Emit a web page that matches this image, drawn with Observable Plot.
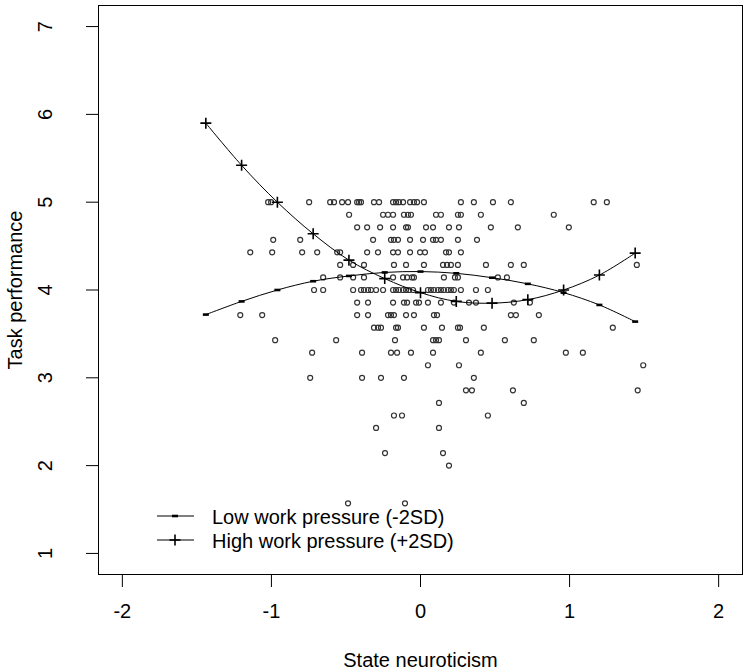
<!DOCTYPE html>
<html>
<head>
<meta charset="utf-8">
<script src="https://cdn.jsdelivr.net/npm/d3@7"></script>
<script src="https://cdn.jsdelivr.net/npm/@observablehq/plot@0.6"></script>
<style>
  html, body { margin: 0; padding: 0; background: #fff; }
  #chart { width: 747px; height: 672px; }
</style>
</head>
<body>
<div id="chart"></div>
<script>
// ---- Axis ticks ----
const xTicks = [-2, -1, 0, 1, 2];
const yTicks = [1, 2, 3, 4, 5, 6, 7];

// ---- Simple-slope curves ----
const curveX = [-1.44, -1.2, -0.96, -0.72, -0.48, -0.24, 0, 0.24, 0.48, 0.72, 0.96, 1.2, 1.44];
const lowY  = [3.72, 3.87, 4.00, 4.10, 4.16, 4.20, 4.21, 4.19, 4.14, 4.07, 3.97, 3.83, 3.64];
const highY = [5.90, 5.42, 5.00, 4.64, 4.34, 4.13, 3.97, 3.87, 3.85, 3.89, 4.00, 4.17, 4.42];

// ---- Observed data (x positions per task-performance level) ----
const x5000 = [-1.022, -1.002, -0.747, -0.606, -0.580, -0.526, -0.486, -0.425, -0.412, -0.399, -0.312, -0.278, -0.184, -0.164, -0.144, -0.117, -0.070, -0.044, -0.023, 0.023, 0.271, 0.358, 0.486, 0.606, 1.162, 1.250];
const x4857 = [-0.479, -0.251, -0.218, -0.184, -0.111, -0.084, -0.064, 0.104, 0.137, 0.251, 0.271, 0.405, 0.894];
const x4714 = [-0.425, -0.358, -0.271, -0.184, -0.097, -0.084, 0.037, 0.084, 0.191, 0.258, 0.472, 0.653, 0.995];
const x4571 = [-0.988, -0.807, -0.318, -0.198, -0.178, -0.151, -0.070, 0.017, 0.084, 0.104, 0.137, 0.251, 0.379];
const x4429 = [-1.142, -0.995, -0.794, -0.693, -0.559, -0.539, -0.358, -0.285, -0.184, -0.151, -0.070, -0.003, 0.030, 0.171, 0.191, 0.271];
const x4286 = [-0.539, -0.452, -0.379, -0.178, -0.097, 0.023, 0.151, 0.178, 0.204, 0.251, 0.439, 0.606, 0.693, 1.451];
const x4143 = [-0.653, -0.539, -0.452, -0.379, -0.184, -0.117, -0.090, -0.057, -0.044, 0.157, 0.231, 0.251, 0.519, 0.580];
const x4000 = [-0.714, -0.653, -0.452, -0.399, -0.379, -0.352, -0.332, -0.298, -0.251, -0.184, -0.164, -0.144, -0.117, -0.097, -0.077, -0.050, 0.050, 0.070, 0.090, 0.117, 0.137, 0.157, 0.184, 0.204, 0.224, 0.271, 0.372, 0.452];
const x3857 = [-0.425, -0.352, -0.184, -0.111, -0.090, -0.030, -0.010, 0.050, 0.137, 0.224, 0.325, 0.372, 0.626, 0.734];
const x3714 = [-1.209, -1.062, -0.425, -0.352, -0.218, -0.198, -0.178, -0.097, -0.044, 0.090, 0.111, 0.606, 0.640, 0.794];
const x3571 = [-0.312, -0.285, -0.265, -0.164, -0.151, 0.023, 0.144, 0.251, 0.265, 0.425, 1.290];
const x3429 = [-0.975, -0.566, -0.171, 0.084, 0.104, 0.124, 0.305, 0.566, 0.760];
const x3286 = [-0.727, -0.392, -0.198, -0.157, -0.064, 0.084, 0.405, 0.975, 1.089];
const x3143 = [0.050, 0.258, 1.494];
const x3000 = [-0.740, -0.392, -0.265, -0.111, 0.358];
const x2857 = [0.305, 0.345, 0.620, 1.457];
const x2714 = [0.124, 0.693];
const x2571 = [-0.178, -0.124, 0.452];
const x2429 = [-0.298, 0.124];
const x2143 = [-0.238, 0.151];
const x2000 = [0.191];
const x1571 = [-0.486, -0.104];

const rows = [
  [5.000, x5000], [4.857, x4857], [4.714, x4714], [4.571, x4571], [4.429, x4429],
  [4.286, x4286], [4.143, x4143], [4.000, x4000], [3.857, x3857], [3.714, x3714],
  [3.571, x3571], [3.429, x3429], [3.286, x3286], [3.143, x3143], [3.000, x3000],
  [2.857, x2857], [2.714, x2714], [2.571, x2571], [2.429, x2429], [2.143, x2143],
  [2.000, x2000], [1.571, x1571]
];
const points = rows.flatMap(([y, xs]) => xs.map(x => ({x, y})));
const lowData = curveX.map((x, i) => ({x, y: lowY[i]}));
const highData = curveX.map((x, i) => ({x, y: highY[i]}));

const legendLabels = ["Low work pressure (-2SD)", "High work pressure (+2SD)"];

const dashSymbol = { draw(ctx) { ctx.moveTo(-3, 0); ctx.lineTo(3, 0); } };
const plusSymbol = { draw(ctx) { ctx.moveTo(-5.5, 0); ctx.lineTo(5.5, 0); ctx.moveTo(0, -5.5); ctx.lineTo(0, 5.5); } };

const FONT = "'Liberation Sans', Arial, Helvetica, sans-serif";
const FS = 20;

const chart = Plot.plot({
  width: 747,
  height: 672,
  marginLeft: 98,
  marginRight: 5,
  marginTop: 5,
  marginBottom: 98,
  style: { fontFamily: FONT, fontSize: FS + "px", color: "#000", background: "#fff" },
  x: { domain: [-2.16, 2.16] },
  y: { domain: [0.76, 7.24] },
  marks: [
    Plot.axisX({ ticks: xTicks, tickSize: 13, tickPadding: 16, fontSize: FS, tickFormat: d => String(d), label: null, stroke: "#000" }),
    Plot.axisY({ ticks: yTicks, tickSize: 12, tickFormat: () => "", label: null, stroke: "#000" }),
    Plot.text(yTicks, { y: d => d, text: d => String(d), frameAnchor: "left", dx: -53, rotate: -90, fontSize: FS, fill: "#000", textAnchor: "middle", lineAnchor: "middle" }),
    Plot.text(["State neuroticism"], { frameAnchor: "bottom", dy: 86, fontSize: FS, fill: "#000", textAnchor: "middle", lineAnchor: "middle" }),
    Plot.text(["Task performance"], { frameAnchor: "left", dx: -83, rotate: -90, fontSize: FS, fill: "#000", textAnchor: "middle", lineAnchor: "middle" }),
    Plot.dot(points, { x: "x", y: "y", r: 2.5, stroke: "#333", strokeWidth: 1.2, fill: "none" }),
    Plot.line(lowData, { x: "x", y: "y", curve: "catmull-rom", stroke: "#000", strokeWidth: 1 }),
    Plot.line(highData, { x: "x", y: "y", curve: "catmull-rom", stroke: "#000", strokeWidth: 1 }),
    Plot.dot(lowData, { x: "x", y: "y", symbol: dashSymbol, stroke: "#000", strokeWidth: 2.6, fill: "none" }),
    Plot.dot(highData, { x: "x", y: "y", symbol: plusSymbol, stroke: "#000", strokeWidth: 1.6, fill: "none" }),
    Plot.frame({ stroke: "#000", strokeWidth: 1 })
  ]
});

// ---- Legend (inside plot area, bottom-left) ----
const svg = d3.select(chart);
const lg = svg.append("g")
  .attr("font-family", FONT).attr("font-size", FS).attr("fill", "#000")
  .attr("text-anchor", "start");
const legendRows = [
  { label: legendLabels[0], y: 516, kind: "dash" },
  { label: legendLabels[1], y: 540, kind: "plus" }
];
legendRows.forEach(r => {
  lg.append("line").attr("x1", 157).attr("x2", 194).attr("y1", r.y).attr("y2", r.y)
    .attr("stroke", "#000").attr("stroke-width", 1.2).attr("fill", "none");
  if (r.kind === "dash") {
    lg.append("line").attr("x1", 172).attr("x2", 178).attr("y1", r.y).attr("y2", r.y)
      .attr("stroke", "#000").attr("stroke-width", 2.6);
  } else {
    lg.append("line").attr("x1", 169.5).attr("x2", 180.5).attr("y1", r.y).attr("y2", r.y)
      .attr("stroke", "#000").attr("stroke-width", 1.6);
    lg.append("line").attr("x1", 175).attr("x2", 175).attr("y1", r.y - 5.5).attr("y2", r.y + 5.5)
      .attr("stroke", "#000").attr("stroke-width", 1.6);
  }
  lg.append("text").attr("x", 212).attr("y", r.y + 8).attr("text-anchor", "start").text(r.label);
});

document.getElementById("chart").appendChild(chart);
</script>
</body>
</html>
